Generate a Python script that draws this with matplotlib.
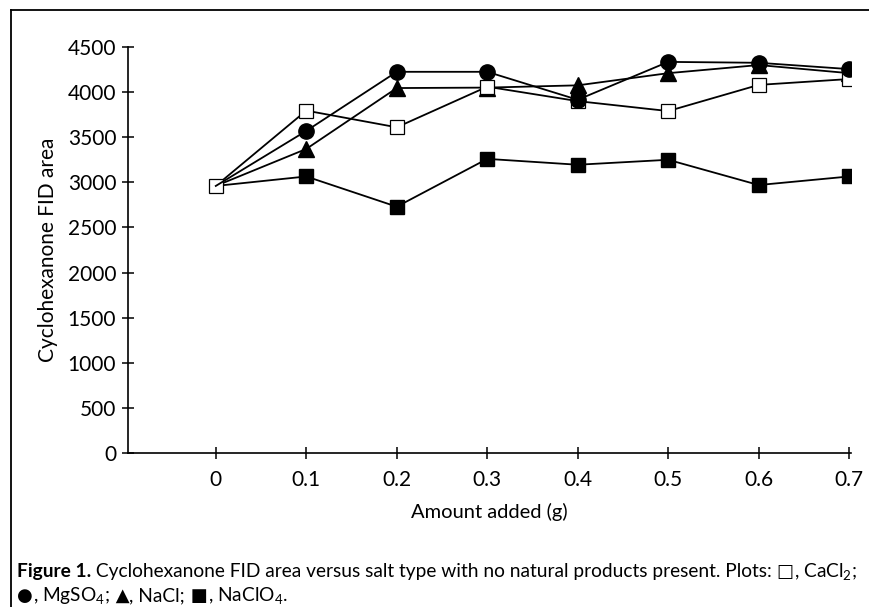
import matplotlib.pyplot as plt
from matplotlib.lines import Line2D

plt.rcParams['font.family'] = ['Lato', 'DejaVu Sans']
plt.rcParams['mathtext.default'] = 'regular'

# data
amount = [0, 0.1, 0.2, 0.3, 0.4, 0.5, 0.6, 0.7]
cacl2 = [2960, 3795, 3610, 4060, 3900, 3790, 4080, 4145]
mgso4 = [2960, 3570, 4225, 4225, 3915, 4335, 4325, 4255]
nacl = [2960, 3370, 4045, 4050, 4075, 4210, 4300, 4210]
naclo4 = [2960, 3065, 2730, 3260, 3195, 3250, 2970, 3065]

xticks = [0, 0.1, 0.2, 0.3, 0.4, 0.5, 0.6, 0.7]
xticklabels = ['0', '0.1', '0.2', '0.3', '0.4', '0.5', '0.6', '0.7']
yticks = list(range(0, 5000, 500))

fig = plt.figure(figsize=(8.69, 6.07), dpi=100)
ax = fig.add_axes([128/869, 1-453/607, (851-128)/869, (453-47)/607])

lw = 1.3
ax.plot(amount, naclo4, color='black', lw=lw, marker='s', ms=10,
        mfc='black', mec='black', markevery=range(1, 8))
ax.plot(amount, nacl, color='black', lw=lw, marker='^', ms=11,
        mfc='black', mec='black', markevery=range(1, 8))
ax.plot(amount, cacl2, color='black', lw=lw, marker='s', ms=10,
        mfc='white', mec='black', mew=0.9)
ax.plot(amount, mgso4, color='black', lw=lw, marker='o', ms=11,
        mfc='black', mec='black', markevery=range(1, 8))

ax.set_xlim(-0.097, 0.702)
ax.set_ylim(0, 4500)
ax.set_xticks(xticks)
ax.set_xticklabels(xticklabels)
ax.set_yticks(yticks)
ax.spines['top'].set_visible(False)
ax.spines['right'].set_visible(False)
ax.spines['left'].set_linewidth(1.2)
ax.spines['bottom'].set_linewidth(1.2)
ax.tick_params(axis='both', direction='inout', length=9, width=1.1,
               labelsize=15, pad=4)
ax.tick_params(axis='x', pad=8)
ax.set_xlabel('Amount added (g)', fontsize=14.5, labelpad=9)
ax.set_ylabel('Cyclohexanone FID area', fontsize=15, labelpad=7)

# frame around the figure (top and left edges)
fig.add_artist(Line2D([11/869, 1], [1-10/607, 1-10/607], color='black',
                      lw=1.3, transform=fig.transFigure))
fig.add_artist(Line2D([11/869, 11/869], [1-10/607, 0], color='black',
                      lw=1.3, transform=fig.transFigure))

# caption, pieces placed one after another
fig.canvas.draw()
r = fig.canvas.get_renderer()
cap = 13.8


def line(pieces, x0, y):
    x = x0
    for s, kw in pieces:
        opts = {'fontsize': cap}
        opts.update(kw)
        t = fig.text(x / 869, 1 - y / 607, s, va='baseline', **opts)
        x = t.get_window_extent(renderer=r).x1
    return x


sym = {'family': 'DejaVu Sans', 'fontsize': 13}
line([('Figure 1.', {'fontweight': 'bold'}),
      (' Cyclohexanone FID area versus salt type with no natural products '
       'present. Plots: ', {}),
      ('\u25a1', sym),
      (', CaCl$_2$;', {})], 17, 577)
line([('\u25cf', sym),
      (', MgSO$_4$;', {}),
      (' \u25b2', sym),
      (', NaCl;', {}),
      (' \u25a0', sym),
      (', NaClO$_4$.', {})], 17, 601)

fig.savefig('out.png', dpi=100)
